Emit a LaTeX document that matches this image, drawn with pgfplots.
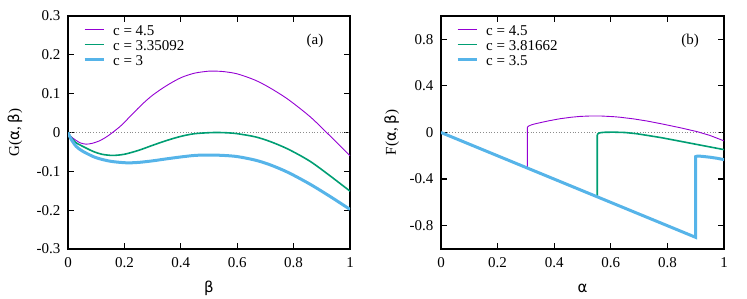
\documentclass[border=0pt]{standalone}
\usepackage{fontspec}
\setmainfont{Liberation Serif}
\newfontfamily\gr{DejaVu Sans}
\usepackage{pgfplots}
\pgfplotsset{compat=1.18}
\definecolor{gpurple}{HTML}{9400D3}
\definecolor{ggreen}{HTML}{009E73}
\definecolor{gblue}{HTML}{56B4E9}
\pgfplotsset{gstyle/.style={
  scale only axis, height=233bp,
  xmin=0,xmax=1,
  font=\fontsize{15bp}{17bp}\selectfont,
  axis line style={line width=1.2bp},
  tick style={black, line width=1.2bp},
  tick align=inside, major tick length=6bp,
  xtick={0,0.2,0.4,0.6,0.8,1},
  xticklabels={0,0.2,0.4,0.6,0.8,1},
  xticklabel style={yshift=-5bp},
  yticklabel style={xshift=-4bp},
  legend cell align=left,
  legend style={draw=none, fill=none, at={(axis description cs:0.053,0.958)}, anchor=north west,
    inner sep=0pt,
    nodes={inner sep=0pt, text height=10bp, text depth=5bp}},
  legend image code/.code={\draw[#1] (0bp,4bp) -- (19bp,4bp); \path (27bp,0bp);},
  xlabel style={at={(axis description cs:0.5,-0.167)}, anchor=center},
}}
\begin{document}
\begin{tikzpicture}
\useasboundingbox (0,0) rectangle (747bp,299bp);
\begin{axis}[gstyle, width=282bp, at={(68bp,50bp)}, anchor=south west,
  ymin=-0.3, ymax=0.3,
  ytick={-0.3,-0.2,-0.1,0,0.1,0.2,0.3},
  yticklabels={-0.3,-0.2,-0.1,0,0.1,0.2,0.3},
  xlabel={{\gr β}},
  ylabel={G({\gr α}, {\gr β})},
  ylabel style={at={(axis description cs:-0.188,0.5)}, anchor=center},
]
\addplot[black!45, line width=0.8bp, dash pattern=on 0.8bp off 2bp, forget plot] coordinates {(0,0)(1,0)};
\addplot[gpurple, line width=0.9bp, smooth] coordinates {
(0,0) (0.01,-0.010) (0.028,-0.020) (0.045,-0.027) (0.064,-0.030) (0.085,-0.028) (0.11,-0.022) (0.135,-0.012) (0.158,0) (0.19,0.019) (0.229,0.048) (0.265,0.074) (0.30,0.096) (0.348,0.120) (0.40,0.141) (0.45,0.153) (0.50,0.158) (0.52,0.158) (0.55,0.157) (0.60,0.151) (0.663,0.135) (0.716,0.115) (0.781,0.085) (0.858,0.041) (0.917,0) (0.96,-0.031) (1,-0.060)};
\addlegendentry{c = 4.5}
\addplot[ggreen, line width=1.6bp, smooth] coordinates {
(0,0) (0.01,-0.012) (0.028,-0.026) (0.045,-0.033) (0.064,-0.040) (0.09,-0.049) (0.12,-0.056) (0.158,-0.059) (0.20,-0.056) (0.25,-0.046) (0.30,-0.033) (0.348,-0.021) (0.40,-0.010) (0.45,-0.003) (0.52,0) (0.57,-0.001) (0.60,-0.003) (0.663,-0.011) (0.716,-0.023) (0.781,-0.043) (0.858,-0.074) (0.93,-0.112) (1,-0.151)};
\addlegendentry{c = 3.35092}
\addplot[gblue, line width=3bp, smooth] coordinates {
(0,0) (0.01,-0.016) (0.028,-0.035) (0.045,-0.045) (0.064,-0.053) (0.10,-0.065) (0.15,-0.074) (0.206,-0.078) (0.25,-0.077) (0.30,-0.073) (0.348,-0.068) (0.40,-0.063) (0.45,-0.059) (0.50,-0.058) (0.55,-0.059) (0.60,-0.062) (0.663,-0.071) (0.716,-0.083) (0.781,-0.103) (0.858,-0.133) (0.93,-0.165) (1,-0.198)};
\addlegendentry{c = 3}
\node at (rel axis cs:0.876,0.893) {(a)};
\end{axis}
\begin{axis}[gstyle, width=283bp, at={(441bp,50bp)}, anchor=south west,
  ymin=-1, ymax=1,
  ytick={-0.8,-0.4,0,0.4,0.8},
  yticklabels={-0.8,-0.4,0,0.4,0.8},
  xlabel={{\gr α}},
  ylabel={F({\gr α}, {\gr β})},
  ylabel style={at={(axis description cs:-0.174,0.5)}, anchor=center},
]
\addplot[black!45, line width=0.8bp, dash pattern=on 0.8bp off 2bp, forget plot] coordinates {(0,0)(1,0)};
\addplot[gpurple, line width=0.9bp] coordinates {
(0,0) (0.305,-0.305) (0.305,0.04) (0.307,0.050) (0.31,0.056) (0.32,0.066) (0.335,0.076) (0.35,0.084) (0.38,0.100) (0.42,0.118) (0.46,0.131) (0.491,0.138) (0.53,0.142) (0.562,0.142) (0.609,0.136) (0.633,0.131) (0.68,0.117) (0.727,0.099) (0.78,0.074) (0.845,0.041) (0.904,0.008) (0.95,-0.025) (1,-0.072)};
\addlegendentry{c = 4.5}
\addplot[ggreen, line width=1.6bp] coordinates {
(0,0) (0.552,-0.552) (0.552,-0.025) (0.554,-0.012) (0.558,-0.005) (0.565,-0.001) (0.58,0.002) (0.609,0.003) (0.65,0.000) (0.69,-0.010) (0.727,-0.024) (0.78,-0.045) (0.845,-0.075) (0.92,-0.110) (1,-0.147)};
\addlegendentry{c = 3.81662}
\addplot[gblue, line width=3bp] coordinates {
(0,0) (0.9,-0.9) (0.9,-0.207) (0.905,-0.203) (0.92,-0.204) (0.95,-0.212) (0.975,-0.221) (1,-0.233)};
\addlegendentry{c = 3.5}
\node at (rel axis cs:0.88,0.893) {(b)};
\end{axis}
\end{tikzpicture}
\end{document}
